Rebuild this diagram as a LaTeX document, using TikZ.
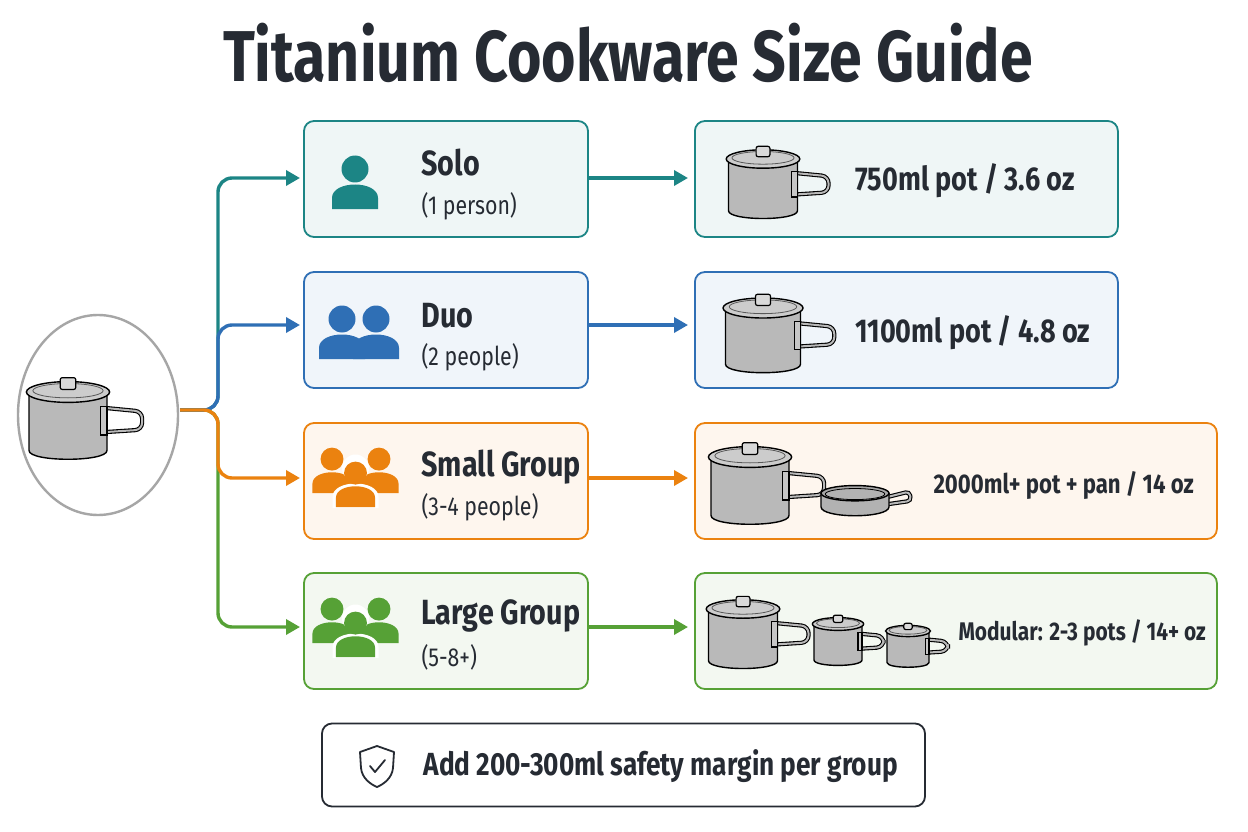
\documentclass[tikz,border=0pt]{standalone}
\usepackage{fontspec}
\setmainfont{Fira Sans}[FakeStretch=0.82]
\usetikzlibrary{arrows.meta,shapes.geometric}
\definecolor{cteal}{HTML}{1C8585}
\definecolor{cblue}{HTML}{2F6FB5}
\definecolor{corange}{HTML}{EB820F}
\definecolor{cgreen}{HTML}{56A136}
\definecolor{txt}{HTML}{262B33}
\tikzset{
 lbox/.style={draw=#1,line width=1.8pt,rounded corners=10pt,fill=#1!7},
 conn/.style={draw=#1,line width=3.4pt,rounded corners=14pt,-{Triangle[length=14pt,width=15pt]}},
 arr/.style={draw=#1,line width=3.4pt,-{Triangle[length=14pt,width=15pt]}},
 head/.style={font=\bfseries\fontsize{35}{38}\selectfont,text=txt,anchor=west},
 sub/.style={font=\fontsize{26}{29}\selectfont,text=txt,anchor=west},
 rtxt/.style={font=\bfseries\fontsize{33}{36}\selectfont,text=txt,anchor=west},
 pot/.pic={
  \draw[line width=4.2pt,black,rounded corners=7pt] (26,-8) -- (57,-5) -- (57,9) -- (26,11);
  \draw[line width=2pt,gray!55,rounded corners=7pt] (26,-8) -- (57,-5) -- (57,9) -- (26,11);
  \draw[line width=1.4pt,fill=gray!55] (-30,-20) -- (-30,25) .. controls (-30,34) and (30,34) .. (30,25) -- (30,-20) -- cycle;
  \draw[line width=1.2pt,fill=gray!45] (25,-9) rectangle (30,13);
  \draw[line width=1.4pt,fill=gray!40] (0,-20) ellipse [x radius=32,y radius=8];
  \draw[line width=0.8pt,gray!70!black] (0,-21) ellipse [x radius=27,y radius=5.5];
  \draw[line width=1.2pt,fill=gray!30,rounded corners=2pt] (-6,-22) rectangle (6,-31);
 },
 pan/.pic={
  \draw[line width=4.2pt,black,rounded corners=4pt] (36,-3) -- (64,-10) -- (66,1) -- (38,5);
  \draw[line width=2pt,gray!55,rounded corners=4pt] (36,-3) -- (64,-10) -- (66,1) -- (38,5);
  \draw[line width=1.4pt,fill=gray!60] (-40,-8) -- (-40,8) .. controls (-40,22) and (40,22) .. (40,8) -- (40,-8) -- cycle;
  \draw[line width=1.4pt,fill=gray!70] (0,-8) ellipse [x radius=40,y radius=9];
  \draw[line width=0.8pt,fill=gray!60] (0,-7) ellipse [x radius=35,y radius=6.5];
 },
 person/.pic={
  \fill[pic actions] (0,-14) circle (13.5);
  \fill[pic actions] (-23,26) -- (-23,15) .. controls (-23,-3) and (23,-3) .. (23,15) -- (23,26) -- cycle;
 },
}
\begin{document}
\begin{tikzpicture}[x=1pt,y=-1pt]
\useasboundingbox[fill=white] (0,0) rectangle (1248,832);
\node[font=\bfseries\fontsize{72}{78}\selectfont,text=txt] (title) at (628,53) {Titanium Cookware Size Guide};
\node[draw=gray!70,line width=2.4pt,ellipse,minimum width=160,minimum height=200,inner sep=0] (hub) at (98,415) {};
\pic[scale=1.3] at (68,418) {pot};
\coordinate (hubR) at (180,410);
\foreach \n/\c/\y/\w in {solo/cteal/179/1117,duo/cblue/330/1117,small/corange/481/1216,large/cgreen/631/1216}{
  \node[lbox=\c,minimum width=284,minimum height=116,inner sep=0] (\n L) at (446,\y) {};
  \node[lbox=\c,minimum width=\w-694,minimum height=116,inner sep=0,anchor=west] (\n R) at (694,\y) {};
}
\foreach \n/\c/\y in {solo/cteal/178,duo/cblue/325,small/corange/478,large/cgreen/627}{
  \coordinate (\n-in) at (300,\y);
  \draw[arr=\c] (\n L.east |- \n-in) -- ([xshift=-6]\n R.west |- \n-in);
}
\draw[conn=cgreen] (hubR) -- (218,410) -- (218,627) -- (large-in);
\draw[conn=cteal] (hubR) -- (218,410) -- (218,178) -- (solo-in);
\draw[conn=cblue] (hubR) -- (218,410) -- (218,325) -- (duo-in);
\draw[conn=corange] (hubR) -- (218,410) -- (218,478) -- (small-in);
\pic[fill=cteal] at (355,183) {person};
\pic[fill=cblue] at (342,333) {person};
\pic[fill=cblue] at (376,333) {person};
\foreach \c/\y in {corange/477,cgreen/627}{
  \pic[fill=\c,scale=0.85] at (332,\y-6) {person};
  \pic[fill=\c,scale=0.85] at (379,\y-6) {person};
  \pic[fill=white,scale=1.0] at (355.5,\y+5) {person};
  \pic[fill=\c,scale=0.85] at (355.5,\y+8) {person};
}
\node[head] (t1) at (418,163) {Solo};
\node[sub] (s1) at (418,206) {(1 person)};
\node[head] (t2) at (418,316) {Duo};
\node[sub] (s2) at (418,357) {(2 people)};
\node[head] (t3) at (418,467) {Small Group};
\node[sub] (s3) at (418,507) {(3-4 people)};
\node[head] (t4) at (418,616) {Large Group};
\node[sub] (s4) at (418,657) {(5-8+)};
\pic[scale=1.15] at (763,182) {pot};
\node[rtxt] (r1) at (852,181) {750ml pot / 3.6 oz};
\pic[scale=1.25] at (763,333) {pot};
\node[rtxt] (r2) at (852,333) {1100ml pot / 4.8 oz};
\pic[scale=1.3] at (750,483) {pot};
\pic[scale=0.85] at (855,500) {pan};
\node[rtxt,font=\bfseries\fontsize{27}{30}\selectfont] (r3) at (930,485) {2000ml+ pot + pan / 14 oz};
\pic[scale=1.15] at (743,632) {pot};
\pic[scale=0.8] at (838,640) {pot};
\pic[scale=0.7] at (908,645) {pot};
\node[rtxt,font=\bfseries\fontsize{25.5}{29}\selectfont] (r4) at (955,633) {Modular: 2-3 pots / 14+ oz};
\node[draw=txt,line width=1.8pt,rounded corners=10pt,minimum width=603,minimum height=83,inner sep=0] (note) at (623.5,765) {};
\draw[txt,line width=1.8pt,line join=round] (377,746) -- (394,752) -- (393,768) .. controls (392,778) and (384,784) .. (377,787) .. controls (370,784) and (362,778) .. (361,768) -- (360,752) -- cycle;
\draw[txt,line width=1.8pt,line cap=round,line join=round] (370,766) -- (375,772) -- (385,760);
\node[font=\fontsize{32}{36}\selectfont\bfseries,text=txt,anchor=west] (nt) at (420,766) {Add 200-300ml safety margin per group};
\end{tikzpicture}
\end{document}
